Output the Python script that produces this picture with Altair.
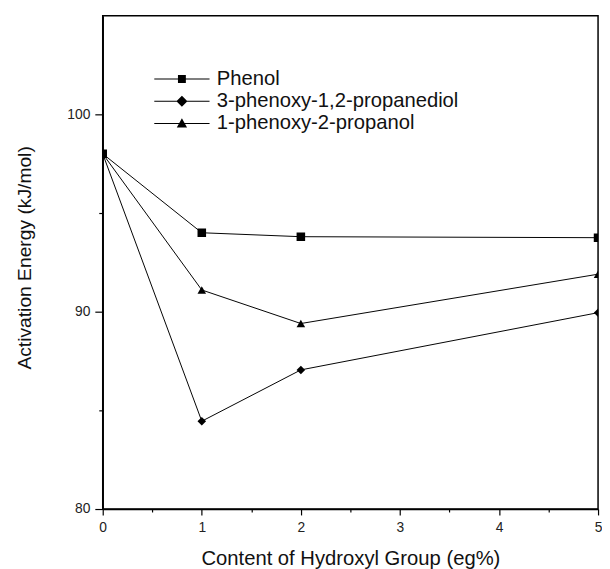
import altair as alt
import pandas as pd

x_vals = [0, 1, 2, 5]
phenol = [98.0, 94.0, 93.8, 93.75]
propanediol = [98.0, 84.45, 87.05, 89.95]
propanol = [98.0, 91.1, 89.4, 91.9]
series_names = ["Phenol", "3-phenoxy-1,2-propanediol", "1-phenoxy-2-propanol"]
x_ticks = [0, 0.5, 1, 1.5, 2, 2.5, 3, 3.5, 4, 4.5, 5]
y_ticks = [80, 85, 90, 95, 100]

rows = []
for name, vals in zip(series_names, [phenol, propanediol, propanol]):
    for x, v in zip(x_vals, vals):
        rows.append({"series": name, "x": x, "y": v})
df = pd.DataFrame(rows)

FONT = "Liberation Sans"
xscale = alt.Scale(domain=[0, 5], nice=False, zero=False)
yscale = alt.Scale(domain=[80, 105], nice=False, zero=False)

x_axis = alt.Axis(
    values=x_ticks,
    labelExpr="datum.value % 1 ? '' : format(datum.value, 'd')",
    title="Content of Hydroxyl Group (eg%)",
    grid=False,
    tickSize={"condition": {"test": "datum.value % 1 != 0", "value": 3}, "value": 6},
    tickColor="black", domainColor="black", domainWidth=1.5, tickWidth=1.2,
    labelFont=FONT, labelFontSize=14, labelColor="#222", labelPadding=6,
    titleFont=FONT, titleFontSize=20.5, titleFontWeight="normal", titleColor="#111",
    titlePadding=14, labelFlush=False,
)
y_axis = alt.Axis(
    values=y_ticks,
    labelExpr="datum.value % 10 ? '' : datum.label",
    title="Activation Energy (kJ/mol)",
    grid=False,
    tickSize={"condition": {"test": "datum.value % 10 != 0", "value": 4}, "value": 8},
    tickColor="black", domainColor="black", domainWidth=1.5, tickWidth=1.2,
    labelFont=FONT, labelFontSize=14, labelColor="#222", labelPadding=5,
    titleFont=FONT, titleFontSize=19.5, titleFontWeight="normal", titleColor="#111",
    titlePadding=33, titleY=245, labelFlush=False,
)

base = alt.Chart(df)

lines = base.mark_line(color="black", strokeWidth=1, clip=True).encode(
    x=alt.X("x:Q", scale=xscale, axis=x_axis),
    y=alt.Y("y:Q", scale=yscale, axis=y_axis),
    detail="series:N",
)

points = base.mark_point(filled=True, color="black", opacity=1, size=75, clip=True).encode(
    x=alt.X("x:Q", scale=xscale),
    y=alt.Y("y:Q", scale=yscale),
    shape=alt.Shape("series:N", scale=alt.Scale(domain=series_names, range=["square", "diamond", "triangle-up"]), legend=None),
)

legend_paths = [
    "M-7,-0.13H7V0.13H-7ZM-1,-1H1V1H-1Z",
    "M-7,-0.13H7V0.13H-7ZM0,-1.4L1.4,0L0,1.4L-1.4,0Z",
    "M-7,-0.13H7V0.13H-7ZM0,-1.3L1.3,1L-1.3,1Z",
]

legend_layer = base.mark_point(filled=True, color="black", opacity=0, clip=True).encode(
    x=alt.X("x:Q", scale=xscale),
    y=alt.Y("y:Q", scale=yscale),
    shape=alt.Shape(
        "series:N",
        scale=alt.Scale(domain=series_names, range=legend_paths),
        legend=alt.Legend(
            title=None, orient="none", legendX=70, legendY=54,
            symbolSize=64, symbolFillColor="black",
            symbolOpacity=1,
            labelFont=FONT, labelFontSize=20.5, labelColor="#111", labelOffset=25,
            labelLimit=400, rowPadding=1.5, padding=0,
        ),
    ),
)

chart = (
    alt.layer(lines, points, legend_layer)
    .resolve_scale(shape="independent")
    .properties(
        width=502, height=500,
        autosize=alt.AutoSizeParams(type="none"),
        padding={"left": 96, "top": 4, "right": 4, "bottom": 57},
        background="white",
    )
    .configure_view(stroke="black", strokeWidth=1.5)
)

chart.save("out.html", embed_options={"renderer": "svg", "actions": False})
